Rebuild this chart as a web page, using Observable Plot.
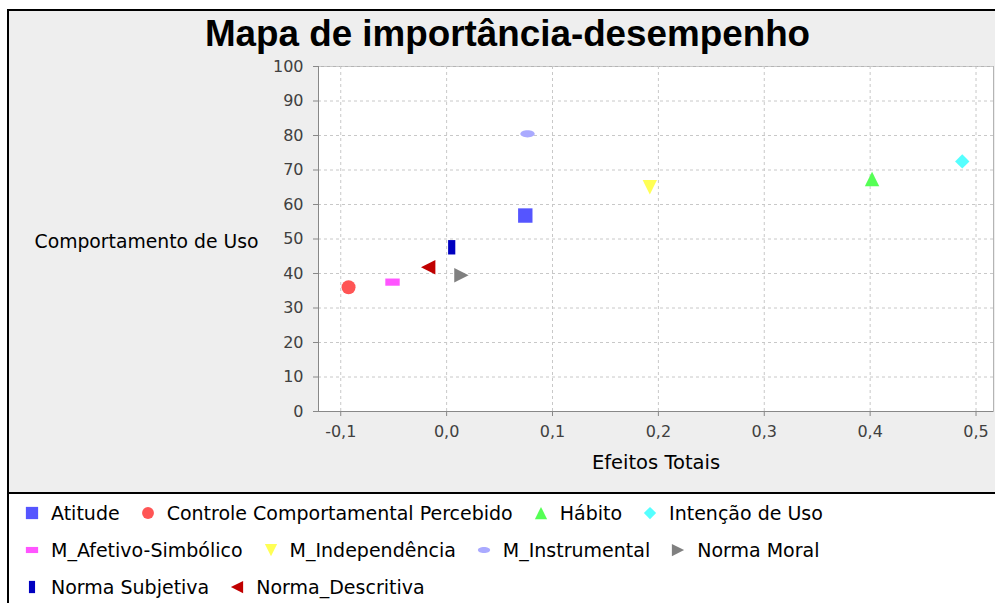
<!DOCTYPE html>
<html><head><meta charset="utf-8">
<script src="https://cdn.jsdelivr.net/npm/d3@7"></script>
<script src="https://cdn.jsdelivr.net/npm/@observablehq/plot@0.6"></script>
<style>
html,body{margin:0;padding:0;background:#fff;}
#page{position:relative;width:995px;height:603px;overflow:hidden;font-family:"DejaVu Sans",sans-serif;}
#blk{position:absolute;left:7px;top:9px;width:988px;height:594px;background:#000;}
#gray{position:absolute;left:9px;top:11px;width:986px;height:481px;background:#eeeeee;}
#white{position:absolute;left:9px;top:494px;width:986px;height:109px;background:#fff;}
#title{position:absolute;left:0;top:16px;width:1015px;text-align:center;font-family:"Liberation Sans",Arial,sans-serif;font-weight:bold;font-size:36.8px;line-height:1;color:#000;white-space:nowrap;}
#chart{position:absolute;left:9px;top:11px;}
#legend{position:absolute;left:9px;top:494px;width:986px;padding-left:16px;box-sizing:border-box;}
#legend .lg-swatches{font-family:"DejaVu Sans",sans-serif;font-size:19px;color:#000;margin:0;display:flex;flex-wrap:wrap;align-items:center;min-height:0;}
#legend .lg-swatch{display:inline-flex;align-items:center;height:37px;margin-right:21px;}
#legend .lg-swatch > svg{margin-right:12px;overflow:visible;}
</style>
</head><body>
<div id="page">
  <div id="blk"></div>
  <div id="gray"></div>
  <div id="white"></div>
  <div id="chart"></div>
  <div id="title">Mapa de importância-desempenho</div>
  <div id="legend"></div>
</div>
<script>
const names = ["Atitude", "Controle Comportamental Percebido", "Hábito", "Intenção de Uso", "M_Afetivo-Simbólico", "M_Independência", "M_Instrumental", "Norma Moral", "Norma Subjetiva", "Norma_Descritiva"];
const efeitosTotais = [0.0743, -0.0926, 0.4018, 0.4870, -0.0511, 0.1919, 0.0764, 0.0140, 0.0048, -0.0174];
const comportamentoUso = [56.8, 36.0, 67.4, 72.5, 37.5, 65.0, 80.5, 39.5, 47.6, 41.8];
const seriesColors = ["#5555ff", "#ff5555", "#55ff55", "#55ffff", "#ff55ff", "#ffff55", "#aaaaff", "#808080", "#0000c0", "#c00000"];
const xTicks = [-0.1, 0, 0.1, 0.2, 0.3, 0.4, 0.5];
const xTickLabels = ["-0,1", "0,0", "0,1", "0,2", "0,3", "0,4", "0,5"];
const yTicks = [0, 10, 20, 30, 40, 50, 60, 70, 80, 90, 100];
const yTickLabels = ["0", "10", "20", "30", "40", "50", "60", "70", "80", "90", "100"];
const xDomain = [-0.121, 0.5165];
const yDomain = [0, 100];

const data = names.map((name, i) => ({name, x: efeitosTotais[i], y: comportamentoUso[i]}));

function poly(pts) {
  return {draw(ctx, size) {
    const s = Math.sqrt(size / Math.PI);
    ctx.moveTo(pts[0][0] * s, pts[0][1] * s);
    for (let k = 1; k < pts.length; k++) ctx.lineTo(pts[k][0] * s, pts[k][1] * s);
    ctx.closePath();
  }};
}
const circleShape = {draw(ctx, size) {
  const s = Math.sqrt(size / Math.PI) * 0.97;
  ctx.moveTo(s, 0); ctx.arc(0, 0, s, 0, 2 * Math.PI); ctx.closePath();
}};
const ellipseShape = {draw(ctx, size) {
  const rx = Math.sqrt(size / Math.PI), ry = rx / 2, k = 0.5523;
  ctx.moveTo(rx, 0);
  ctx.bezierCurveTo(rx, ry * k, rx * k, ry, 0, ry);
  ctx.bezierCurveTo(-rx * k, ry, -rx, ry * k, -rx, 0);
  ctx.bezierCurveTo(-rx, -ry * k, -rx * k, -ry, 0, -ry);
  ctx.bezierCurveTo(rx * k, -ry, rx, -ry * k, rx, 0);
  ctx.closePath();
}};
const shapes = [
  poly([[-1, -1], [1, -1], [1, 1], [-1, 1]]),
  circleShape,
  poly([[0, -1], [1, 1], [-1, 1]]),
  poly([[0, -1], [1, 0], [0, 1], [-1, 0]]),
  poly([[-1, -0.5], [1, -0.5], [1, 0.5], [-1, 0.5]]),
  poly([[-1, -1], [1, -1], [0, 1]]),
  ellipseShape,
  poly([[-1, -1], [1, 0], [-1, 1]]),
  poly([[-0.5, -1], [0.5, -1], [0.5, 1], [-0.5, 1]]),
  poly([[1, -1], [-1, 0], [1, 1]])
];

const gridStyle = {stroke: "#c8c8c8", strokeOpacity: 1, strokeDasharray: "3,3", strokeWidth: 1};

const chart = Plot.plot({
  width: 986, height: 481,
  marginLeft: 309, marginRight: 2, marginTop: 55, marginBottom: 81,
  style: {background: "transparent", fontFamily: "DejaVu Sans, sans-serif", fontSize: "16px", color: "#404040"},
  x: {domain: xDomain, axis: null},
  y: {domain: yDomain, axis: null},
  color: {domain: names, range: seriesColors},
  symbol: {domain: names, range: shapes},
  marks: [
    Plot.frame({fill: "white", stroke: "#b4b4b4"}),
    Plot.gridX(xTicks, gridStyle),
    Plot.gridY(yTicks, gridStyle),
    Plot.ruleY([yDomain[0]], {stroke: "#888888"}),
    Plot.ruleX([xDomain[0]], {stroke: "#888888"}),
    Plot.axisX(xTicks, {tickFormat: d => xTickLabels[xTicks.indexOf(d)], tickSize: 5, tickPadding: 9, stroke: "#888888", fill: "#404040", fontSize: 16, label: null}),
    Plot.axisY(yTicks, {tickFormat: d => yTickLabels[yTicks.indexOf(d)], tickSize: 5, tickPadding: 10, stroke: "#888888", fill: "#404040", fontSize: 16, label: null}),
    Plot.text(["Comportamento de Uso"], {text: d => d, frameAnchor: "left", dx: -60, dy: 3, textAnchor: "end", fontSize: 18.8, fill: "#000"}),
    Plot.text(["Efeitos Totais"], {text: d => d, frameAnchor: "bottom", dy: 57, fontSize: 19.5, fill: "#000"}),
    Plot.dot(data, {x: "x", y: "y", symbol: "name", fill: "name", r: 7.2})
  ]
});
document.getElementById("chart").appendChild(chart);
const leg = chart.legend("symbol", {className: "lg", r: 7, swatchSize: 14});
document.getElementById("legend").appendChild(leg);
</script>
</body></html>
